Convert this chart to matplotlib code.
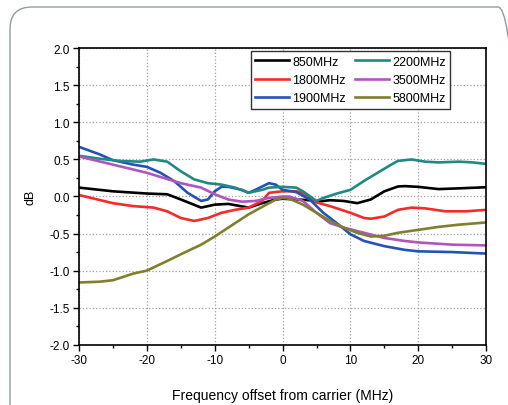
# Curvas de resposta em frequência por banda (dB vs offset da portadora)

import matplotlib
matplotlib.use('Agg')
import matplotlib.pyplot as plt
from matplotlib.patches import FancyBboxPatch
from matplotlib.ticker import MultipleLocator

plt.rcParams['font.family'] = ['Liberation Sans', 'DejaVu Sans']
plt.rcParams['axes.unicode_minus'] = False  # hífen simples nos números negativos

# Dados (offset em MHz, ganho em dB)
x_850 = [-30, -25, -20, -17, -15, -12, -10, -8, -5, -3, -1, 0, 2, 4, 5, 7, 9, 11, 13, 15, 17, 18, 20, 23, 26, 30]
y_850 = [0.12, 0.07, 0.04, 0.03, -0.04, -0.15, -0.11, -0.10, -0.15, -0.09, -0.04, -0.03, -0.04, -0.05, -0.07, -0.05, -0.06, -0.09, -0.04, 0.07, 0.135, 0.14, 0.13, 0.10, 0.11, 0.125]

x_1800 = [-30, -25, -22, -19, -17, -15, -13, -11, -9, -7, -5, -3, -2, 0, 2, 3, 5, 7, 10, 12, 13, 15, 17, 19, 21, 24, 27, 30]
y_1800 = [0.02, -0.09, -0.13, -0.15, -0.20, -0.29, -0.33, -0.29, -0.22, -0.18, -0.15, -0.06, 0.05, 0.07, 0.07, 0.05, -0.08, -0.13, -0.22, -0.29, -0.30, -0.27, -0.18, -0.15, -0.16, -0.20, -0.20, -0.18]

x_1900 = [-30, -27, -25, -22, -20, -18, -16, -14, -12, -11, -10, -9, -8, -6, -5, -4, -2, -1, 0, 2, 4, 6, 8, 10, 12, 15, 18, 20, 25, 30]
y_1900 = [0.67, 0.57, 0.49, 0.43, 0.40, 0.32, 0.21, 0.05, -0.06, -0.04, 0.07, 0.13, 0.13, 0.09, 0.05, 0.09, 0.18, 0.16, 0.09, 0.06, -0.04, -0.22, -0.36, -0.51, -0.60, -0.67, -0.72, -0.74, -0.75, -0.77]

x_2200 = [-30, -27, -24, -21, -19, -17, -15, -13, -11, -9, -7, -5, -4, -3, -2, 0, 2, 3, 5, 6, 8, 10, 12, 14, 16, 17, 19, 21, 23, 26, 28, 30]
y_2200 = [0.55, 0.51, 0.48, 0.47, 0.50, 0.47, 0.34, 0.23, 0.18, 0.16, 0.12, 0.05, 0.07, 0.09, 0.12, 0.13, 0.12, 0.07, -0.06, -0.02, 0.04, 0.09, 0.21, 0.32, 0.43, 0.48, 0.50, 0.47, 0.46, 0.47, 0.46, 0.44]

x_3500 = [-30, -25, -20, -15, -12, -10, -8, -6, -4, -2, 0, 1, 3, 5, 7, 9, 12, 15, 18, 20, 25, 30]
y_3500 = [0.54, 0.43, 0.32, 0.18, 0.12, 0.03, -0.04, -0.07, -0.06, -0.02, 0.0, 0.0, -0.06, -0.22, -0.36, -0.42, -0.49, -0.56, -0.60, -0.62, -0.65, -0.66]

x_5800 = [-30, -27, -25, -24, -22, -20, -17, -15, -12, -10, -7, -5, -3, -1, 0, 1, 3, 5, 7, 9, 11, 13, 15, 17, 20, 23, 26, 30]
y_5800 = [-1.16, -1.15, -1.13, -1.10, -1.04, -1.00, -0.87, -0.78, -0.65, -0.54, -0.36, -0.24, -0.14, -0.04, -0.02, -0.03, -0.11, -0.22, -0.33, -0.42, -0.49, -0.54, -0.53, -0.49, -0.45, -0.41, -0.38, -0.35]

series = [
    ('850MHz', x_850, y_850, '#000000'),
    ('1800MHz', x_1800, y_1800, '#f52a2a'),
    ('1900MHz', x_1900, y_1900, '#2553b5'),
    ('2200MHz', x_2200, y_2200, '#1f8a82'),
    ('3500MHz', x_3500, y_3500, '#b055bf'),
    ('5800MHz', x_5800, y_5800, '#7f7f2e'),
]

fig = plt.figure(figsize=(5.08, 4.06), dpi=100)

# Moldura arredondada em volta da figura (coordenadas em pixels)
moldura = FancyBboxPatch((10, -40), 510, 438, boxstyle='round,pad=0,rounding_size=22',
                         transform=None, facecolor='none', edgecolor='#8d9ca6', linewidth=1.0)
fig.patches.append(moldura)

ax = fig.add_axes([0.1555, 0.1485, 0.8015, 0.7301])

for nome, xs, ys, cor in series:
    ax.plot(xs, ys, color=cor, linewidth=1.9, label=nome)

ax.set_xlim(-30, 30)
ax.set_ylim(-2.0, 2.0)
ax.xaxis.set_major_locator(MultipleLocator(10))
ax.xaxis.set_minor_locator(MultipleLocator(5))
ax.yaxis.set_minor_locator(MultipleLocator(0.25))
ax.set_yticks([-2.0, -1.5, -1.0, -0.5, 0.0, 0.5, 1.0, 1.5, 2.0])
ax.set_yticklabels(['-2.0', '-1.5', '-1.0', '-0.5', '0.0', '0.5', '1.0', '1.5', '2.0'])

ax.tick_params(which='major', direction='out', length=4.5, width=1.0, labelsize=8.5, pad=2)
ax.tick_params(which='minor', direction='out', length=2.5, width=1.0)
ax.grid(True, which='major', linestyle=':', color='#a0a0a0', linewidth=0.9)

for lado in ['left', 'bottom', 'right', 'top']:
    ax.spines[lado].set_linewidth(1.2)

ax.set_xlabel('Frequency offset from carrier (MHz)', fontsize=10)
ax.xaxis.set_label_coords(0.5, -0.145)
ax.set_ylabel('dB', fontsize=9)
ax.yaxis.set_label_coords(-0.105, 0.5)

leg = ax.legend(ncol=2, loc='upper right', bbox_to_anchor=(0.912, 0.99), fontsize=9,
                frameon=True, fancybox=False, edgecolor='#333333', framealpha=1,
                handlelength=2.7, columnspacing=0.7, handletextpad=0.3,
                labelspacing=0.5, borderpad=0.35, borderaxespad=0)
leg.get_frame().set_linewidth(1.0)

plt.savefig('out.png', dpi=100)
plt.close()
print('Gráfico salvo: out.png')
